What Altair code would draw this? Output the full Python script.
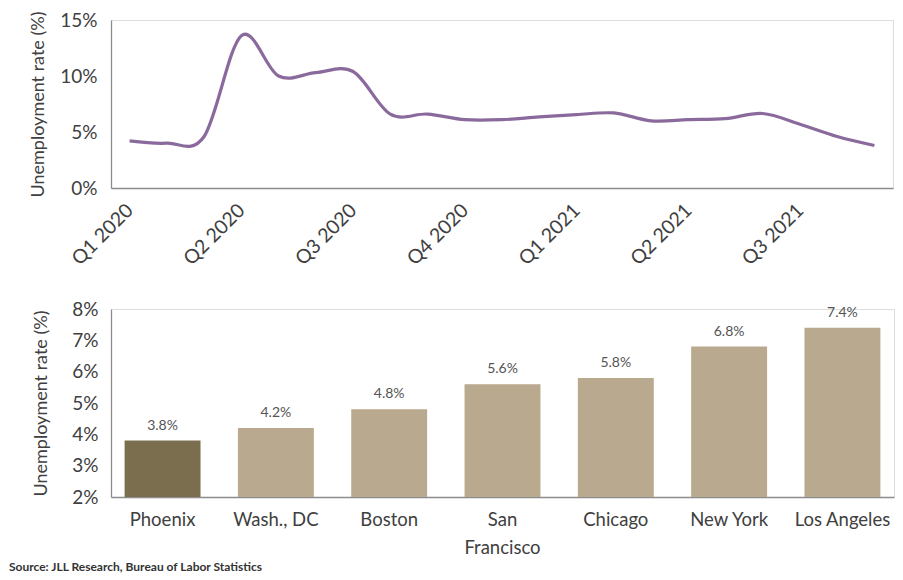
import altair as alt
import pandas as pd

# ---- top chart data: monthly unemployment rate (%) ----
months = ["2020-01", "2020-02", "2020-03", "2020-04", "2020-05", "2020-06",
          "2020-07", "2020-08", "2020-09", "2020-10", "2020-11", "2020-12",
          "2021-01", "2021-02", "2021-03", "2021-04", "2021-05", "2021-06",
          "2021-07", "2021-08", "2021-09"]
rates = [4.2, 4.0, 4.6, 13.6, 10.0, 10.3, 10.4, 6.6, 6.6, 6.1, 6.1, 6.35,
         6.55, 6.7, 6.0, 6.1, 6.2, 6.65, 5.7, 4.6, 3.8]
tick_months = ["2020-01", "2020-04", "2020-07", "2020-10", "2021-01", "2021-04", "2021-07"]
tick_labels = ["Q1 2020", "Q2 2020", "Q3 2020", "Q4 2020", "Q1 2021", "Q2 2021", "Q3 2021"]

# ---- bottom chart data ----
cities = ["Phoenix", "Wash., DC", "Boston", "San Francisco", "Chicago", "New York", "Los Angeles"]
city_rates = [3.8, 4.2, 4.8, 5.6, 5.8, 6.8, 7.4]
highlight = ["yes", "no", "no", "no", "no", "no", "no"]
bar_ticks = [2, 3, 4, 5, 6, 7, 8]
source_text = ["Source: JLL Research, Bureau of Labor Statistics"]

FONT = "Lato"
TXT = "#404040"
AX = "#8c8c8c"

line_df = pd.DataFrame({"month": months, "rate": rates})
bar_df = pd.DataFrame({"city": cities, "rate": city_rates, "hl": highlight})
src_df = pd.DataFrame({"t": source_text})

months_js = "[" + ",".join("'%s'" % m for m in tick_months) + "]"
labels_js = "[" + ",".join("'%s'" % l for l in tick_labels) + "]"

TOP_W, TOP_H = 782, 168
BOT_W, BOT_H = 783, 188

top = alt.Chart(line_df).mark_line(
    color="#8a6a9c", strokeWidth=3.2, interpolate="cardinal"
).encode(
    x=alt.X("month:O", sort=months,
            scale=alt.Scale(type="point", padding=0.5),
            axis=alt.Axis(values=tick_months,
                          labelExpr=labels_js + "[indexof(" + months_js + ", datum.value)]",
                          labelAngle=-45, labelAlign="right", labelBaseline="middle",
                          labelPadding=19, ticks=False, tickSize=0, title=None,
                          labelFontSize=19.5, labelColor=TXT, domainColor=AX,
                          domainWidth=1.3, labelFont=FONT)),
    y=alt.Y("rate:Q", scale=alt.Scale(domain=[0, 15], nice=False),
            axis=alt.Axis(values=[0, 5, 10, 15], labelExpr="datum.value + '%'",
                          title="Unemployment rate (%)", titleFontSize=18,
                          titleFontWeight="normal", titleColor=TXT, titleFont=FONT,
                          titlePadding=12, labelFontSize=19, labelColor=TXT,
                          labelPadding=14, ticks=False, tickSize=0, grid=False,
                          labelOverlap=False,
                          domainColor=AX, domainWidth=1.3, labelFont=FONT)),
).properties(width=TOP_W, height=TOP_H)

x_axis_b = alt.Axis(title=None, labelAngle=0, ticks=False, tickSize=0,
                    labelPadding=13, labelFontSize=18.5, labelColor=TXT,
                    labelFont=FONT, domainColor=AX, domainWidth=1.3,
                    labelLineHeight=28,
                    labelExpr="datum.label == 'San Francisco' ? ['San', 'Francisco'] : datum.label")
y_axis_b = alt.Axis(values=bar_ticks, tickCount=7, labelExpr="datum.value + '%'",
                    title="Unemployment rate (%)", titleFontSize=18,
                    titleFontWeight="normal", titleColor=TXT, titleFont=FONT,
                    titlePadding=21, labelFontSize=19, labelColor=TXT,
                    labelPadding=13, ticks=False, tickSize=0, grid=False,
                    labelOverlap=False,
                    domainColor=AX, domainWidth=1.3, labelFont=FONT)
x_scale_b = alt.Scale(paddingInner=0.33, paddingOuter=0.12)
y_scale_b = alt.Scale(domain=[2, 8], nice=False, zero=False)

bars = alt.Chart(bar_df).mark_bar().encode(
    x=alt.X("city:N", sort=cities, scale=x_scale_b, axis=x_axis_b),
    y=alt.Y("rate:Q", scale=y_scale_b, axis=y_axis_b),
    y2=alt.datum(2),
    color=alt.Color("hl:N", scale=alt.Scale(domain=["yes", "no"],
                                             range=["#7a6e4e", "#b9a98e"]),
                    legend=None),
)

values = alt.Chart(bar_df).transform_calculate(
    label="format(datum.rate, '.1f') + '%'"
).mark_text(baseline="bottom", dy=-8, fontSize=14, color="#555555", font=FONT).encode(
    x=alt.X("city:N", sort=cities, scale=x_scale_b, axis=x_axis_b),
    y=alt.Y("rate:Q", scale=y_scale_b, axis=y_axis_b),
    text="label:N",
)

source = alt.Chart(src_df).mark_text(
    align="left", baseline="middle", fontSize=12, fontWeight="bold",
    color="#333333", font=FONT
).encode(
    x=alt.value(-102),
    y=alt.value(BOT_H + 70),
    text="t:N",
)

bottom = alt.layer(bars, values, source).properties(width=BOT_W, height=BOT_H)

chart = alt.vconcat(top, bottom, spacing=30).properties(
    padding={"left": 0, "top": 2, "right": 0, "bottom": 0}
).configure_view(stroke=None).configure(font=FONT)

chart.save("out.html", embed_options={"renderer": "svg", "actions": False})
